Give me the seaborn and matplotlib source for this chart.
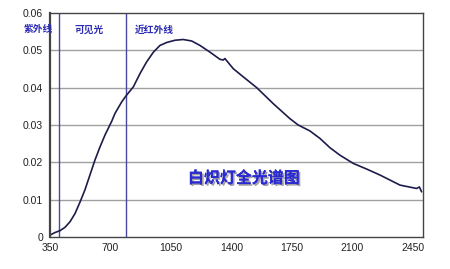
import matplotlib
matplotlib.use("Agg")
import matplotlib.pyplot as plt
import matplotlib.patheffects as pe
import seaborn as sns
import pandas as pd

wavelength = [350, 379, 408, 437, 466, 495, 524, 552, 581, 610, 639, 668, 687, 707, 726,
              765, 793, 832, 871, 909, 948, 986, 1025, 1073, 1121, 1170, 1218, 1276, 1333,
              1352, 1362, 1410, 1468, 1546, 1642, 1738, 1786, 1854, 1912, 1970, 2028, 2105,
              2182, 2259, 2375, 2471, 2487, 2500]
intensity = [0.0005, 0.0012, 0.0017, 0.0026, 0.0041, 0.0063, 0.0094, 0.0126, 0.0166, 0.0206,
             0.0241, 0.0273, 0.0291, 0.0310, 0.0331, 0.0362, 0.0380, 0.0402, 0.0438, 0.0469,
             0.0495, 0.0513, 0.0521, 0.0527, 0.0529, 0.0525, 0.0513, 0.0495, 0.0476, 0.0474,
             0.0478, 0.0451, 0.0429, 0.0400, 0.0357, 0.0317, 0.0300, 0.0284, 0.0264, 0.0239,
             0.0219, 0.0197, 0.0182, 0.0166, 0.0139, 0.0130, 0.0134, 0.0121]
region_bounds = [400, 790]
region_labels = ["紫外线", "可见光", "近红外线"]
region_label_x = [281, 576, 955]
x_ticks = [350, 700, 1050, 1400, 1750, 2100, 2450]
y_ticks = [0, 0.01, 0.02, 0.03, 0.04, 0.05, 0.06]
y_tick_labels = ["0", "0.01", "0.02", "0.03", "0.04", "0.05", "0.06"]
title = "白炽灯全光谱图"

sns.set_style("white")
plt.rcParams['font.family'] = ['Liberation Sans', 'Noto Sans CJK SC', 'DejaVu Sans']

df = pd.DataFrame({"wavelength": wavelength, "intensity": intensity})

fig = plt.figure(figsize=(4.5, 2.69), dpi=100)
ax = fig.add_axes([50/450, 32/269, 373/450, 224/269])

for y in y_ticks[1:-1]:
    ax.axhline(y, color="#a0a0a0", lw=1.0, zorder=0)

sns.lineplot(data=df, x="wavelength", y="intensity", ax=ax, color="#1c1c4a", lw=1.2)

for b in region_bounds:
    ax.axvline(b, color="#4848a0", lw=1.0, zorder=1)

ax.set_xlim(350, 2508)
ax.set_ylim(0, 0.06)
ax.set_xticks(x_ticks)
ax.set_xticklabels([str(t) for t in x_ticks])
ax.set_yticks(y_ticks)
ax.set_yticklabels(y_tick_labels)
ax.set_xlabel("")
ax.set_ylabel("")
ax.tick_params(axis='both', labelsize=7.5, colors="#333333", length=3, width=0.8)
ax.tick_params(axis='x', direction='in', pad=4)
ax.tick_params(axis='y', direction='out', pad=2)
ax.tick_params(labelcolor="#222222")

for s in ax.spines.values():
    s.set_color("#444444")
    s.set_linewidth(1.0)
ax.spines['left'].set_linewidth(1.6)

for lx, lab in zip(region_label_x, region_labels):
    ax.text(lx, 0.0556, lab, fontsize=7, color="#2b2bb5", fontweight="bold",
            family=['Noto Sans CJK SC', 'DejaVu Sans'], ha="center", va="center",
            clip_on=False)

ax.text(1472, 0.0158, title, fontsize=11.5, color="#2a2ad0", fontweight="bold",
        family=['Noto Sans CJK SC', 'DejaVu Sans'], ha="center", va="center",
        path_effects=[pe.withSimplePatchShadow(offset=(1.2, -1.2), shadow_rgbFace="#888888", alpha=0.8), pe.Normal()])

fig.savefig("out.png", dpi=100)
